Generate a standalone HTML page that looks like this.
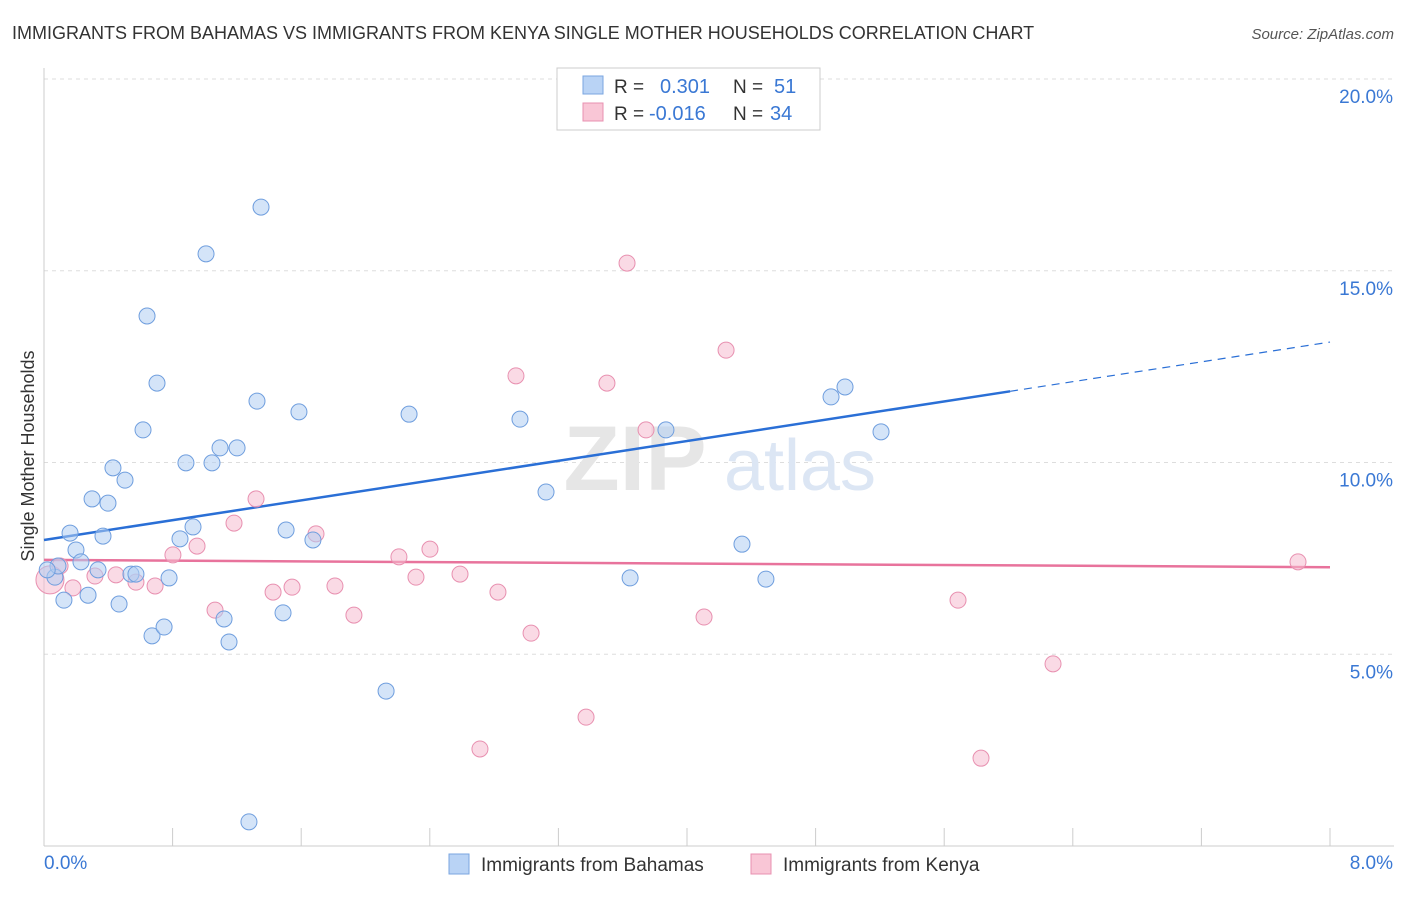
<!DOCTYPE html>
<html><head><meta charset="utf-8"><style>
body{margin:0;background:#fff;font-family:"Liberation Sans",sans-serif;}
svg text{font-family:"Liberation Sans",sans-serif;}
</style></head><body>
<svg id="chart" width="1406" height="892" xmlns="http://www.w3.org/2000/svg">
<text x="12" y="39" font-size="18" fill="#333">IMMIGRANTS FROM BAHAMAS VS IMMIGRANTS FROM KENYA SINGLE MOTHER HOUSEHOLDS CORRELATION CHART</text>
<text x="1394" y="39" font-size="15" fill="#555" font-style="italic" text-anchor="end">Source: ZipAtlas.com</text>
<text x="34" y="456" font-size="18" fill="#333" text-anchor="middle" transform="rotate(-90 34 456)">Single Mother Households</text>
<g id="grid"></g>
<g><text x="635" y="490" font-size="92" fill="#e6e6e6" font-family="Liberation Serif" text-anchor="middle" font-weight="bold">ZIP</text><text x="800" y="490" font-size="72" fill="#dce6f4" text-anchor="middle">atlas</text></g>
<g id="axes"></g>
<g id="trend"></g>
<g id="points"></g>
<g>
<rect x="557" y="68" width="263" height="62" fill="#fff" stroke="#ccc"/>
<rect x="583" y="76" width="20" height="18" fill="#b9d3f5" stroke="#7aa6e0"/>
<rect x="583" y="103" width="20" height="18" fill="#f9c6d6" stroke="#e890b0"/>
<text x="614" y="93" font-size="19" fill="#333">R = </text><text x="660" y="93" font-size="20" fill="#3a78d4">0.301</text>
<text x="733" y="93" font-size="19" fill="#333">N = </text><text x="774" y="93" font-size="20" fill="#3a78d4">51</text>
<text x="614" y="120" font-size="19" fill="#333">R = </text><text x="649" y="120" font-size="20" fill="#3a78d4">-0.016</text>
<text x="733" y="120" font-size="19" fill="#333">N = </text><text x="770" y="120" font-size="20" fill="#3a78d4">34</text>
</g>
<g>
<rect x="449" y="854" width="20" height="20" fill="#b9d3f5" stroke="#7aa6e0"/>
<text x="481" y="871" font-size="19" fill="#333">Immigrants from Bahamas</text>
<rect x="751" y="854" width="20" height="20" fill="#f9c6d6" stroke="#e890b0"/>
<text x="783" y="871" font-size="19" fill="#333">Immigrants from Kenya</text>
</g>
</svg>
<script>
const yTicks=[5,10,15,20];
const yTickLabels=["5.0%","10.0%","15.0%","20.0%"];
const xTickCount=10;
const xMin=0,xMax=8;
const blueX=[0.068,0.087,0.124,0.162,0.199,0.230,0.274,0.299,0.336,0.367,0.398,0.429,0.467,0.504,0.541,0.572,0.616,0.641,0.672,0.703,0.747,0.778,0.846,0.883,0.927,1.008,1.045,1.095,1.120,1.151,1.201,1.275,1.325,1.350,1.487,1.506,1.586,1.673,2.128,2.271,2.961,3.123,3.646,3.869,4.342,4.491,4.896,4.983,5.207,4.149,0.02];
const blueY=[7.01,7.30,6.41,8.16,7.72,7.41,6.54,9.05,7.20,8.08,8.94,9.86,6.31,9.54,7.09,7.09,10.85,13.82,5.48,12.07,5.71,6.99,8.01,9.99,8.32,15.44,9.99,10.38,5.92,5.32,10.38,0.63,11.60,16.66,6.08,8.24,11.32,7.98,4.04,11.26,11.13,9.23,6.99,10.85,7.87,6.96,11.71,11.97,10.80,19.09,7.2];
const pinkX=[0.037,0.100,0.180,0.317,0.448,0.572,0.691,0.802,0.952,1.064,1.182,1.319,1.425,1.543,1.692,1.810,1.928,2.208,2.314,2.401,2.588,2.824,2.936,3.030,2.712,3.372,3.502,3.627,3.745,4.106,4.243,5.686,5.829,6.277,7.801];
const pinkY=[6.94,7.30,6.73,7.04,7.07,6.88,6.78,7.59,7.82,6.15,8.42,9.05,6.62,6.75,8.14,6.78,6.02,7.54,7.01,7.74,7.09,6.62,12.26,5.55,2.53,3.36,12.07,15.20,10.85,5.97,12.93,6.41,2.29,4.75,7.41];
const blueTrend=[7.98,13.14]; const blueSolidEnd=6.01;
const pinkTrend=[7.46,7.27];
const NS="http://www.w3.org/2000/svg";
const X=v=>44+(v-xMin)/(xMax-xMin)*1286;
const Y=v=>846-v*38.35;
function mk(tag,attrs,parent){const e=document.createElementNS(NS,tag);for(const k in attrs)e.setAttribute(k,attrs[k]);document.getElementById(parent).appendChild(e);return e;}
yTicks.forEach((t,i)=>{
 const l=mk('line',{x1:44,x2:1394,y1:Y(t),y2:Y(t),stroke:'#ddd','stroke-dasharray':'4,4'},'grid');
 
 
 const tx=mk('text',{x:1393,y:Y(t)+24,'font-size':19,fill:'#3a78d4','text-anchor':'end'},'axes');
 tx.textContent=yTickLabels[i];
 
 
});
const ax=mk('line',{x1:44,x2:44,y1:68,y2:846,stroke:'#ccc'},'axes');


const bx=mk('line',{x1:44,x2:1394,y1:846,y2:846,stroke:'#ccc'},'axes');


for(let i=1;i<=xTickCount;i++){const v=xMin+i*(xMax-xMin)/xTickCount;
 const t=mk('line',{x1:X(v),x2:X(v),y1:828,y2:846,stroke:'#ccc'},'axes');
 
 }
const x0=mk('text',{x:44,y:869,'font-size':19,fill:'#3a78d4'},'axes');x0.textContent='0.0%';


const x1=mk('text',{x:1393,y:869,'font-size':19,fill:'#3a78d4','text-anchor':'end'},'axes');x1.textContent='8.0%';


function pts(xs,ys,fill,stroke,name){xs.forEach((x,i)=>{
 const c=mk('circle',{cx:X(x),cy:Y(ys[i]),r:(name==='kenya-point'&&i===0)?14:8,fill:fill,'fill-opacity':0.55,stroke:stroke,'stroke-width':1},'points');
 
 });}
pts(pinkX,pinkY,'#f6bcd0','#e890b0','kenya-point');
pts(blueX,blueY,'#b0cdf2','#6f9ede','bahamas-point');
const slope=(blueTrend[1]-blueTrend[0])/(xMax-xMin);
const b1=mk('line',{x1:X(0),y1:Y(blueTrend[0]),x2:X(blueSolidEnd),y2:Y(blueTrend[0]+slope*blueSolidEnd),stroke:'#2a6fd6','stroke-width':2.5},'trend');


const b2=mk('line',{x1:X(blueSolidEnd),y1:Y(blueTrend[0]+slope*blueSolidEnd),x2:X(xMax),y2:Y(blueTrend[1]),stroke:'#2a6fd6','stroke-width':1.2,'stroke-dasharray':'8,6'},'trend');


const p1=mk('line',{x1:X(0),y1:Y(pinkTrend[0]),x2:X(xMax),y2:Y(pinkTrend[1]),stroke:'#e8739c','stroke-width':2.5},'trend');


</script>
</body></html>
